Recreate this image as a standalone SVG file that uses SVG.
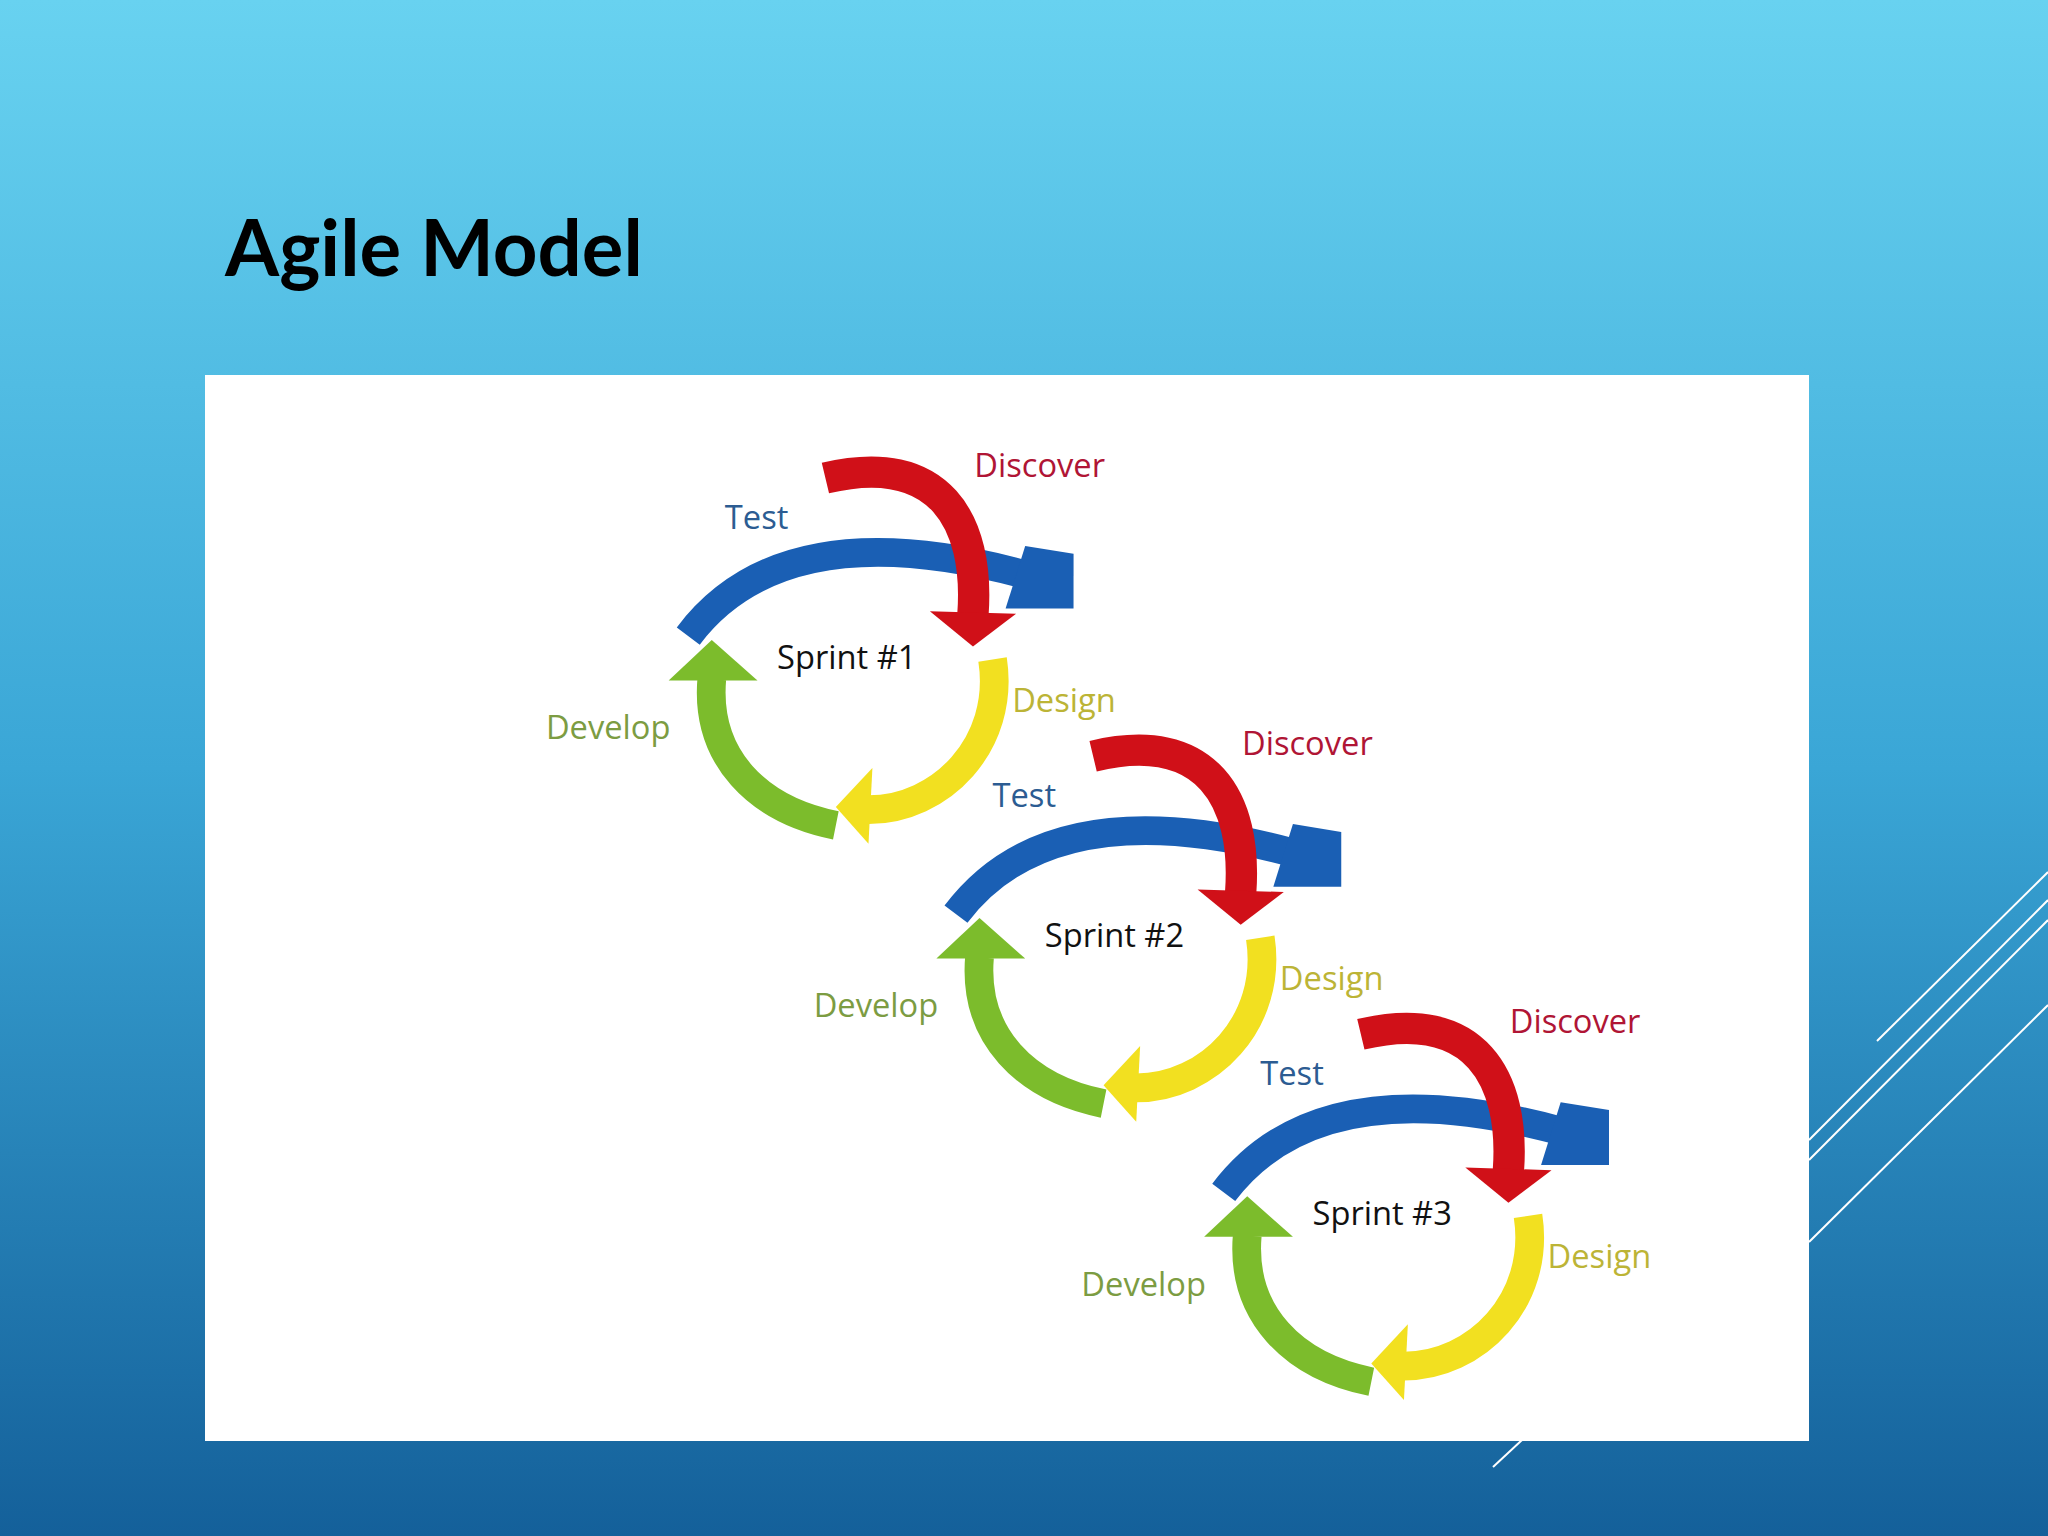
<svg xmlns="http://www.w3.org/2000/svg" xmlns:xlink="http://www.w3.org/1999/xlink" width="2048" height="1536" viewBox="0 0 2048 1536">
<defs>
<linearGradient id="bg" x1="0" y1="0" x2="0" y2="1">
<stop offset="0" stop-color="#68d2f0"/><stop offset="0.5" stop-color="#3aa6d6"/><stop offset="1" stop-color="#14609a"/>
</linearGradient>
<style>
.lbl{font-family:"Open Sans","Liberation Sans",sans-serif;font-size:25px}
.dis{fill:#b01535}.tst{fill:#2c5c92}.des{fill:#bcb436}.dev{fill:#7c9c42}.spr{fill:#111;font-size:25px}
.wl{stroke:#fff;stroke-width:2;fill:none}
</style>
<g id="cycle">
<path d="M527,487 Q600,390 785,440" fill="none" stroke="#1a5fb4" stroke-width="22"/>
<polygon points="785,418 822,424 822,466 770,466" fill="#1a5fb4"/>
<path d="M632,366 C720,345 750,400 745,470" fill="none" stroke="#d01018" stroke-width="24"/>
<polygon points="712,468 778,470 745,495" fill="#d01018"/>
<path d="M760,505 C770,570 720,620 665,620" fill="none" stroke="#f2e020" stroke-width="22"/>
<polygon points="668,588 640,618 665,646" fill="#f2e020"/>
<path d="M545,520 C540,580 580,620 640,632" fill="none" stroke="#7cbc2c" stroke-width="22"/>
<polygon points="512,521 580,521 545,490" fill="#7cbc2c"/>
</g>
</defs>
<rect width="2048" height="1536" fill="url(#bg)"/>
<text x="225" y="276" font-family="Lato,'Open Sans','Liberation Sans',sans-serif" font-weight="bold" font-size="78" fill="#000">Agile Model</text>
<g id="decor">
<line class="wl" x1="1877" y1="1041" x2="2048" y2="872"/>
<line class="wl" x1="1809" y1="1140" x2="2048" y2="900"/>
<line class="wl" x1="1809" y1="1160" x2="2048" y2="920"/>
<line class="wl" x1="1809" y1="1242" x2="2048" y2="1005"/>
<line class="wl" x1="1493" y1="1467" x2="1522" y2="1440"/>
</g>
<rect id="panel" x="205" y="375" width="1604" height="1066" fill="#fff"/>
<g transform="scale(1.306)">
<g id="sprint1">
<use xlink:href="#cycle"/>
<text class="lbl dis" x="746" y="365">Discover</text>
<text class="lbl tst" x="555" y="405">Test</text>
<text class="lbl spr" x="595" y="512">Sprint #1</text>
<text class="lbl des" x="775" y="545">Design</text>
<text class="lbl dev" x="418" y="566">Develop</text>
</g>
<g id="sprint2" transform="translate(205,213)">
<use xlink:href="#cycle"/>
<text class="lbl dis" x="746" y="365">Discover</text>
<text class="lbl tst" x="555" y="405">Test</text>
<text class="lbl spr" x="595" y="512">Sprint #2</text>
<text class="lbl des" x="775" y="545">Design</text>
<text class="lbl dev" x="418" y="566">Develop</text>
</g>
<g id="sprint3" transform="translate(410,426)">
<use xlink:href="#cycle"/>
<text class="lbl dis" x="746" y="365">Discover</text>
<text class="lbl tst" x="555" y="405">Test</text>
<text class="lbl spr" x="595" y="512">Sprint #3</text>
<text class="lbl des" x="775" y="545">Design</text>
<text class="lbl dev" x="418" y="566">Develop</text>
</g>
</g>
</svg>
